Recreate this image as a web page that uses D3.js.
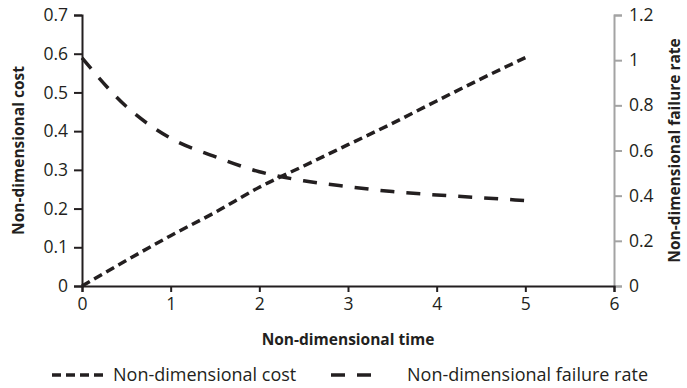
<!DOCTYPE html>
<html>
<head>
<meta charset="utf-8">
<script src="https://cdn.jsdelivr.net/npm/d3@7"></script>
<style>
  html, body { margin: 0; padding: 0; background: #fff; }
  svg text { font-family: "Open Sans", sans-serif; fill: #231f20; }
</style>
</head>
<body>
<svg id="chart" width="687" height="388"></svg>
<script>
'use strict'

// values
const times = [0, 0.5, 1, 1.5, 2, 2.5, 3, 3.5, 4, 4.5, 5]
const costValues = [0, 0.066, 0.13, 0.19, 0.255, 0.31, 0.365, 0.42, 0.478, 0.535, 0.59]
const failureValues = [1.01, 0.795, 0.654, 0.573, 0.506, 0.466, 0.44, 0.418, 0.403, 0.391, 0.378]

const xTicks = [0, 1, 2, 3, 4, 5, 6]
const leftTicks = [0, 0.1, 0.2, 0.3, 0.4, 0.5, 0.6, 0.7]
const rightTicks = [0, 0.2, 0.4, 0.6, 0.8, 1, 1.2]

const seriesNames = ['Non-dimensional cost', 'Non-dimensional failure rate']

const ink = '#231f20'
const box = {left: 82, right: 614, top: 15, bottom: 286}
const fontSize = 17.5
const titleSize = 15.5

const svg = d3.select('#chart')

const x = d3.scaleLinear().domain([0, 6]).range([box.left, box.right])
const yLeft = d3.scaleLinear().domain([0, 0.7]).range([box.bottom, box.top])
const yRight = d3.scaleLinear().domain([0, 1.2]).range([box.bottom, box.top])

const fmt = d => String(+d.toFixed(1))

function styleAxis(g, colour) {
  g.select('.domain').attr('stroke', colour).attr('stroke-width', 2)
  g.selectAll('.tick line').attr('stroke', colour).attr('stroke-width', 2)
  g.selectAll('.tick text').attr('font-size', fontSize)
    .style('font-family', '"Open Sans", sans-serif').attr('fill', ink)
}

// right axis first so the black x axis sits over its foot
const gRight = svg.append('g')
  .attr('transform', `translate(${box.right},0)`)
  .call(d3.axisRight(yRight).tickValues(rightTicks).tickFormat(fmt).tickSizeOuter(0).tickSize(8).tickPadding(7))
styleAxis(gRight, '#a3a3a3')

const gLeft = svg.append('g')
  .attr('transform', `translate(${box.left},0)`)
  .call(d3.axisLeft(yLeft).tickValues(leftTicks).tickFormat(fmt).tickSizeOuter(0).tickSize(8).tickPadding(6))
styleAxis(gLeft, ink)

const gBottom = svg.append('g')
  .attr('transform', `translate(0,${box.bottom})`)
  .call(d3.axisBottom(x).tickValues(xTicks).tickFormat(d3.format('d')).tickSizeOuter(0).tickSize(6).tickPadding(6))
styleAxis(gBottom, ink)

// axis titles
svg.append('text')
  .attr('x', (box.left + box.right) / 2).attr('y', 340).attr('dy', '0.35em')
  .attr('text-anchor', 'middle').attr('font-size', titleSize).attr('font-weight', 'bold')
  .text('Non-dimensional time')

svg.append('text')
  .attr('transform', `translate(19,${(box.top + box.bottom) / 2}) rotate(-90)`)
  .attr('dy', '0.35em')
  .attr('text-anchor', 'middle').attr('font-size', titleSize).attr('font-weight', 'bold')
  .text('Non-dimensional cost')

svg.append('text')
  .attr('transform', `translate(675,${(box.top + box.bottom) / 2}) rotate(-90)`)
  .attr('dy', '0.35em')
  .attr('text-anchor', 'middle').attr('font-size', titleSize).attr('font-weight', 'bold')
  .text('Non-dimensional failure rate')

// the two series
const costLine = d3.line().x((d, i) => x(times[i])).y(d => yLeft(d)).curve(d3.curveMonotoneX)
const failLine = d3.line().x((d, i) => x(times[i])).y(d => yRight(d)).curve(d3.curveMonotoneX)

svg.append('path')
  .attr('d', costLine(costValues))
  .attr('fill', 'none').attr('stroke', ink).attr('stroke-width', 3.5)
  .attr('stroke-dasharray', '9,5')

svg.append('path')
  .attr('d', failLine(failureValues))
  .attr('fill', 'none').attr('stroke', ink).attr('stroke-width', 3.5)
  .attr('stroke-dasharray', '14,12')

// legend
const legendY = 375
svg.append('line')
  .attr('x1', 52).attr('x2', 106).attr('y1', legendY).attr('y2', legendY)
  .attr('stroke', ink).attr('stroke-width', 3.5).attr('stroke-dasharray', '9,5')
svg.append('text')
  .attr('x', 113).attr('y', legendY).attr('dy', '0.35em').attr('font-size', 18)
  .text(seriesNames[0])

svg.append('line')
  .attr('x1', 331).attr('x2', 383).attr('y1', legendY).attr('y2', legendY)
  .attr('stroke', ink).attr('stroke-width', 3.5).attr('stroke-dasharray', '14,12')
svg.append('text')
  .attr('x', 407).attr('y', legendY).attr('dy', '0.35em').attr('font-size', 18)
  .text(seriesNames[1])
</script>
</body>
</html>
